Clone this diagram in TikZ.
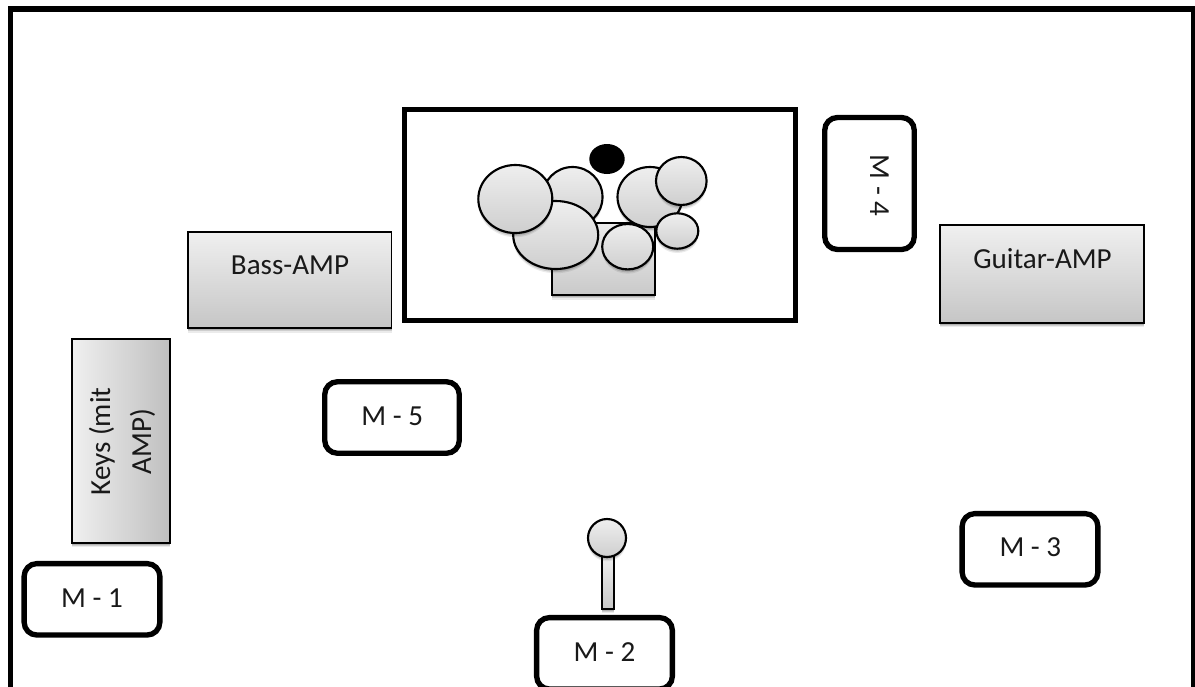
\documentclass[tikz,border=0pt]{standalone}
\usepackage{fontspec}
\setmainfont{Carlito}
\usetikzlibrary{shadows,shapes.geometric}
\newcommand{\pxu}{0.75pt}
\tikzset{
  softshadow/.style={
    drop shadow={shadow xshift=0pt,shadow yshift=-1.2pt,opacity=.14,fill=black,shadow scale=1.0},
    drop shadow={shadow xshift=0pt,shadow yshift=-2.2pt,opacity=.12,fill=black,shadow scale=1.0},
    drop shadow={shadow xshift=0pt,shadow yshift=-3.2pt,opacity=.08,fill=black,shadow scale=1.0}},
  amp/.style={rectangle,draw=black,line width=1.25pt,inner sep=0,outer sep=0,softshadow},
  vgrad/.style={top color=gray!12,bottom color=gray!45},
  hgrad/.style={left color=gray!12,right color=gray!50},
  drum/.style={ellipse,draw=black,line width=1.6pt,inner sep=0,outer sep=0,top color=gray!13,bottom color=gray!38,softshadow},
  micbox/.style={rectangle,rounded corners=9.5pt,draw=black,line width=4pt,fill=white,inner sep=0,outer sep=0},
  lbl/.style={font=\fontsize{21.8pt}{30.75pt}\selectfont,text=black!90,inner sep=0,align=center},
}
\begin{document}
\begin{tikzpicture}[x=0.75pt,y=-0.75pt]
\useasboundingbox (0,0) rectangle (1195,686);
\clip (0,0) rectangle (1195,686);
\fill[white] (0,0) rectangle (1195,686);
% outer frame, open at the picture's edge
\node[rectangle,draw=black,line width=4pt,inner sep=0,minimum width=1183.5*\pxu,minimum height=700*\pxu] (frame) at (602.25,359) {};
% amplifiers
\node[amp,vgrad,minimum width=203.5*\pxu,minimum height=96.5*\pxu] (bass) at (289.8,280) {};
\node[lbl] (basst) at (290,265) {Bass-AMP};
\node[amp,vgrad,minimum width=204*\pxu,minimum height=98*\pxu] (guitar) at (1042,274) {};
\node[lbl] (guitart) at (1042.5,259) {Guitar-AMP};
\node[amp,hgrad,minimum width=98*\pxu,minimum height=204*\pxu] (keys) at (121,441) {};
\node[lbl,rotate=90] (keyst) at (122,441.5) {Keys (mit\\AMP)};
% drum riser
\node[rectangle,draw=black,line width=4pt,inner sep=0,minimum width=391*\pxu,minimum height=211*\pxu] (riser) at (600,215) {};
% drum kit
\node[amp,top color=gray!15,bottom color=gray!42,minimum width=102.4*\pxu,minimum height=72*\pxu] (kick) at (603.5,259.3) {};
\node[drum,minimum width=60*\pxu,minimum height=60*\pxu] (tomA) at (572.5,197) {};
\node[drum,minimum width=65*\pxu,minimum height=60*\pxu] (tomB) at (650,197) {};
\node[drum,minimum width=85*\pxu,minimum height=68*\pxu] (snare) at (555.7,235) {};
\node[drum,minimum width=74*\pxu,minimum height=68*\pxu] (hat) at (515.3,199) {};
\node[drum,minimum width=51*\pxu,minimum height=45.4*\pxu] (tomC) at (627.7,246.7) {};
\node[drum,minimum width=42*\pxu,minimum height=35.4*\pxu] (cymA) at (677.3,231) {};
\node[drum,minimum width=50.6*\pxu,minimum height=48*\pxu] (cymB) at (681.3,181) {};
\node[ellipse,fill=black,inner sep=0,minimum width=35.4*\pxu,minimum height=30*\pxu] (stool) at (607,159) {};
% vocal mic stand
\node[amp,vgrad,line width=1pt,minimum width=12*\pxu,minimum height=53*\pxu] (rod) at (608,582.5) {};
\node[drum,minimum width=38*\pxu,minimum height=38*\pxu] (head) at (607,538) {};
% monitors
\node[micbox,minimum width=135.7*\pxu,minimum height=71.4*\pxu] (m1) at (92,599.3) {};
\node[lbl] (m1t) at (92,598) {M - 1};
\node[micbox,minimum width=135.7*\pxu,minimum height=71.4*\pxu] (m2) at (604.5,653.3) {};
\node[lbl] (m2t) at (604.5,651.7) {M - 2};
\node[micbox,minimum width=135.7*\pxu,minimum height=71.4*\pxu] (m3) at (1030,549.3) {};
\node[lbl] (m3t) at (1030.3,547.6) {M - 3};
\node[micbox,minimum width=89.5*\pxu,minimum height=132*\pxu] (m4) at (869.5,183.5) {};
\node[lbl,rotate=-90] (m4t) at (879.5,185.5) {M - 4};
\node[micbox,minimum width=134.5*\pxu,minimum height=71.5*\pxu] (m5) at (392,417.5) {};
\node[lbl] (m5t) at (392.2,416) {M - 5};
\end{tikzpicture}
\end{document}
